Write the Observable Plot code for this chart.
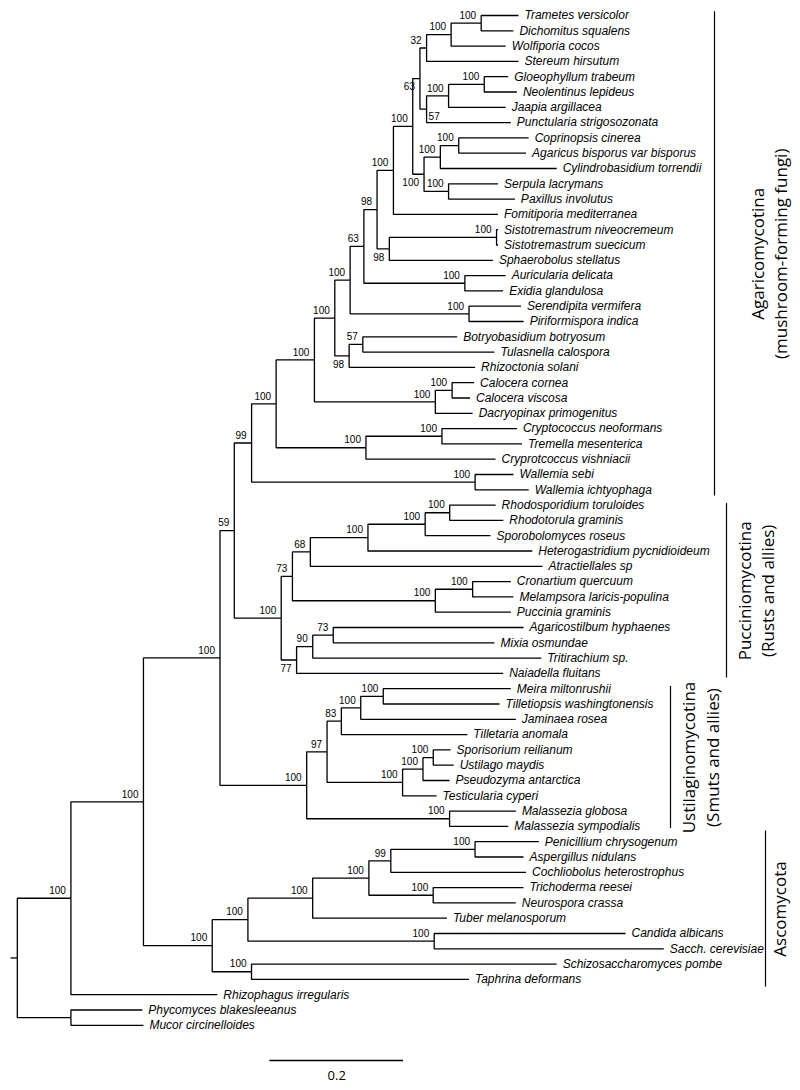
<!DOCTYPE html>
<html><head><meta charset="utf-8">
<script src="https://cdn.jsdelivr.net/npm/d3@7"></script>
<script src="https://cdn.jsdelivr.net/npm/@observablehq/plot@0.6"></script>
<style>
html,body{margin:0;padding:0;background:#fff;}
#chart svg{display:block;}
</style></head><body><div id="chart"></div>
<script>
// ---------- DATA: tree as Newick pieces (branch lengths in substitutions/site, support values) ----------
const TD   = "(Trametes versicolor:0.0558,Dichomitus squalens:0.0482)100:0.0450";
const TDW  = "(" + TD + ",Wolfiporia cocos:0.0817)100:0.0367";
const N32  = "(" + TDW + ",Stereum hirsutum:0.1375)32:0.0099";
const GN   = "(Gloeophyllum trabeum:0.0359,Neolentinus lepideus:0.0488)100:0.0534";
const GNJ  = "(" + GN + ",Jaapia argillacea:0.0854)100:0.0329";
const N57  = "(" + GNJ + ",Punctularia strigosozonata:0.1260)57:0.0099";
const N63  = "(" + N32 + "," + N57 + ")63:0.0108";
const CA   = "(Coprinopsis cinerea:0.1046,Agaricus bisporus var bisporus:0.1007)100:0.0275";
const CAC  = "(" + CA + ",Cylindrobasidium torrendii:0.1740)100:0.0244";
const SP   = "(Serpula lacrymans:0.0739,Paxillus involutus:0.0992)100:0.0367";
const AB   = "(" + CAC + "," + SP + ")100:0.0169";
const NA   = "(" + N63 + "," + AB + ")100:0.0289";
const NB   = "(" + NA + ",Fomitiporia mediterranea:0.1563)100:0.0245";
const SIS  = "(Sistotremastrum niveocremeum:0.0022,Sistotremastrum suecicum:0.0022)100:0.1604";
const ND   = "(" + SIS + ",Sphaerobolus stellatus:0.1549)98:0.0184";
const NC   = "(" + NB + "," + ND + ")98:0.0197";
const AE   = "(Auricularia delicata:0.0610,Exidia glandulosa:0.0573)100:0.1511";
const NE   = "(" + NC + "," + AE + ")63:0.0206";
const SPI  = "(Serendipita vermifera:0.0778,Piriformispora indica:0.0817)100:0.1779";
const NF   = "(" + NE + "," + SPI + ")100:0.0229";
const BT   = "(Botryobasidium botryosum:0.1412,Tulasnella calospora:0.1970)57:0.0205";
const BTR  = "(" + BT + ",Rhizoctonia solani:0.1885)98:0.0214";
const NG   = "(" + NF + "," + BTR + ")100:0.0305";
const CC   = "(Calocera cornea:0.0329,Calocera viscosa:0.0268)100:0.0251";
const DAC  = "(" + CC + ",Dacryopinax primogenitus:0.0558)100:0.1809";
const NH   = "(" + NG + "," + DAC + ")100:0.0573";
const CT   = "(Cryptococcus neoformans:0.1122,Tremella mesenterica:0.1198)100:0.1137";
const TRE  = "(" + CT + ",Cryprotcoccus vishniacii:0.1939)100:0.1344";
const NI   = "(" + NH + "," + TRE + ")100:0.0367";
const WAL  = "(Wallemia sebi:0.0573,Wallemia ichtyophaga:0.0802)100:0.3344";
const NJ   = "(" + NI + "," + WAL + ")99:0.0259";
const RR   = "(Rhodosporidium toruloides:0.0687,Rhodotorula graminis:0.0802)100:0.0367";
const RRS  = "(" + RR + ",Sporobolomyces roseus:0.0977)100:0.0856";
const RRSH = "(" + RRS + ",Heterogastridium pycnidioideum:0.2458)100:0.0862";
const N68  = "(" + RRSH + ",Atractiellales sp:0.3473)68:0.0268";
const CM   = "(Cronartium quercuum:0.0572,Melampsora laricis-populina:0.0610)100:0.0558";
const CMP  = "(" + CM + ",Puccinia graminis:0.1130)100:0.2138";
const N73  = "(" + N68 + "," + CMP + ")73:0.0168";
const AM   = "(Agaricostilbum hyphaenes:0.2847,Mixia osmundae:0.2412)73:0.0307";
const N90  = "(" + AM + ",Tritirachium sp.:0.3420)90:0.0242";
const N77  = "(" + N90 + ",Naiadella fluitans:0.3091)77:0.0230";
const PUC  = "(" + N73 + "," + N77 + ")100:0.0702";
const NK   = "(" + NJ + "," + PUC + ")59:0.0214";
const MT   = "(Meira miltonrushii:0.1908,Tilletiopsis washingtonensis:0.1740)100:0.0337";
const MTJ  = "(" + MT + ",Jaminaea rosea:0.2320)100:0.0290";
const N83  = "(" + MTJ + ",Tilletaria anomala:0.1885)83:0.0214";
const SU   = "(Sporisorium reilianum:0.0259,Ustilago maydis:0.0305)100:0.0154";
const SUP  = "(" + SU + ",Pseudozyma antarctica:0.0398)100:0.0305";
const SUPT = "(" + SUP + ",Testicularia cyperi:0.0509)100:0.1130";
const N97  = "(" + N83 + "," + SUPT + ")97:0.0305";
const MAL  = "(Malassezia globosa:0.0992,Malassezia sympodialis:0.0878)100:0.2138";
const UST  = "(" + N97 + "," + MAL + ")100:0.1297";
const BAS  = "(" + NK + "," + UST + ")100:0.1145";
const PA   = "(Penicillium chrysogenum:0.0955,Aspergillus nidulans:0.0726)100:0.1260";
const P99  = "(" + PA + ",Cochliobolus heterostrophus:0.2023)99:0.0328";
const TN   = "(Trichoderma reesei:0.1351,Neurospora crassa:0.1236)100:0.0962";
const PEZ  = "(" + P99 + "," + TN + ")100:0.0841";
const PT   = "(" + PEZ + ",Tuber melanosporum:0.2008)100:0.0969";
const CS   = "(Candida albicans:0.2862,Sacch. cerevisiae:0.3435)100:0.2787";
const PTC  = "(" + PT + "," + CS + ")100:0.0534";
const ST   = "(Schizosaccharomyces pombe:0.4565,Taphrina deformans:0.3253)100:0.0588";
const ASC  = "(" + PTC + "," + ST + ")100:0.1029";
const DIK  = "(" + BAS + "," + ASC + ")100:0.1085";
const DR   = "(" + DIK + ",Rhizophagus irregularis:0.2190)100:0.0802";
const MUC  = "(Phycomyces blakesleeanus:0.1068,Mucor circinelloides:0.1085):0.0802";
const newick = "(" + DR + "," + MUC + "):0.0099;";

// clade brackets (leaf-row extents) and their labels
const cladeNames = [["Agaricomycotina", "(mushroom-forming fungi)"], ["Pucciniomycotina", "(Rusts and allies)"], ["Ustilaginomycotina", "(Smuts and allies)"], ["Ascomycota"]];
const cladeFrom  = [-0.25, 31.9, 43.85, 53.3];
const cladeTo    = [31.4, 43.3, 53.15, 63.5];

// scale bar
const scaleLength = 0.2;
const scaleLabel  = "0.2";

// ---------- LAYOUT constants ----------
const X0 = 10.2, PXU = 668.4;         // x range for 0..1 substitutions
const ROW0 = 15, ROWSTEP = 15.3;       // leaf row spacing
const px2u = px => (px - X0) / PXU;
const cladeBracketPx = [714, 726, 670, 765];
const cladeTextPx = [[758, 781], [745, 768], [689, 713], [780]];
const placement = {
  "Trametes versicolor|Punctularia strigosozonata": "below",
  "Coprinopsis cinerea|Paxillus involutus": "below",
  "Sistotremastrum niveocremeum|Sphaerobolus stellatus": "below",
  "Botryobasidium botryosum|Rhizoctonia solani": "below",
  "Agaricostilbum hyphaenes|Naiadella fluitans": "below",
  "Gloeophyllum trabeum|Punctularia strigosozonata": "right"
};

// ---------- parse Newick ----------
function parseNewick(s) {
  let i = 0;
  function node() {
    const n = {children: [], name: "", length: 0};
    if (s[i] === "(") {
      i++;
      n.children.push(node());
      while (s[i] === ",") { i++; n.children.push(node()); }
      i++; // ')'
    }
    let name = "";
    while (i < s.length && !",():;".includes(s[i])) name += s[i++];
    n.name = name.trim();
    if (s[i] === ":") {
      i++;
      let num = "";
      while (i < s.length && !",();".includes(s[i])) num += s[i++];
      n.length = +num;
    }
    return n;
  }
  return node();
}
const root = parseNewick(newick);
let leafCount = 0;
const allNodes = [];
(function lay(n, parent) {
  n.parent = parent;
  n.depth = (parent ? parent.depth : 0) + n.length;
  allNodes.push(n);
  if (!n.children.length) { n.row = leafCount++; n.first = n.last = n.name; }
  else {
    n.children.forEach(c => lay(c, n));
    n.row = (n.children[0].row + n.children[n.children.length - 1].row) / 2;
    n.first = n.children[0].first; n.last = n.children[n.children.length - 1].last;
  }
})(root, null);

const edges = allNodes.map(n => ({
  x1: n.parent ? n.parent.depth : 0, y1: n.parent ? n.parent.row : n.row,
  x2: n.depth, y2: n.row
}));
const leaves = allNodes.filter(n => !n.children.length);
const supports = allNodes.filter(n => n.children.length && n.name);
const supAbove = supports.filter(n => !placement[n.first + "|" + n.last]);
const supBelow = supports.filter(n => placement[n.first + "|" + n.last] === "below");
const supRight = supports.filter(n => placement[n.first + "|" + n.last] === "right");

const brackets = cladeNames.map((nm, k) => ({x: px2u(cladeBracketPx[k]), from: cladeFrom[k], to: cladeTo[k]}));
const cladeText = cladeNames.flatMap((nm, k) => nm.map((t, j) => ({
  text: t, x: px2u(cladeTextPx[k][j]), y: (cladeFrom[k] + cladeTo[k]) / 2
})));
const scaleStart = px2u(269.4);
const scaleRow = (1060 - ROW0) / ROWSTEP, scaleTextRow = (1075.5 - ROW0) / ROWSTEP;

const arial = "'Liberation Sans', Arial, Helvetica, sans-serif";
const myriad = "'Open Sans', 'Noto Sans', sans-serif";

const chart = Plot.plot({
  width: 800, height: 1090,
  marginTop: 0, marginBottom: 0, marginLeft: 0, marginRight: 0,
  x: {domain: [0, 1], range: [X0, X0 + PXU], axis: null},
  y: {domain: [0, 66], range: [ROW0, ROW0 + 66 * ROWSTEP], axis: null},
  style: {background: "#fff", color: "#000", overflow: "visible"},
  marks: [
    Plot.link(edges, {x1: "x1", y1: "y1", x2: "x2", y2: "y2", curve: "step-before", stroke: "#000", strokeWidth: 1.3}),
    Plot.text(leaves, {x: "depth", y: "row", text: "name", textAnchor: "start", dx: 6, fontSize: 12, fontStyle: "italic", fontFamily: arial, fill: "#000"}),
    Plot.text(supAbove, {x: "depth", y: "row", text: "name", textAnchor: "end", dx: -5, dy: -7.5, fontSize: 10, fontFamily: arial, fill: "#000"}),
    Plot.text(supBelow, {x: "depth", y: "row", text: "name", textAnchor: "end", dx: -5, dy: 8.5, fontSize: 10, fontFamily: arial, fill: "#000"}),
    Plot.text(supRight, {x: "depth", y: "row", text: "name", textAnchor: "start", dx: 2, dy: 8, fontSize: 10, fontFamily: arial, fill: "#000"}),
    Plot.ruleX(brackets, {x: "x", y1: "from", y2: "to", stroke: "#000", strokeWidth: 1.2}),
    Plot.text(cladeText, {x: "x", y: "y", text: "text", rotate: -90, fontSize: 17, fontFamily: myriad, fill: "#000"}),
    Plot.ruleY([{a: scaleStart, b: scaleStart + scaleLength, r: scaleRow}], {x1: "a", x2: "b", y: "r", stroke: "#000", strokeWidth: 1.3}),
    Plot.text([{x: scaleStart + scaleLength / 2, r: scaleTextRow, t: scaleLabel}], {x: "x", y: "r", text: "t", fontSize: 13, fontFamily: myriad, fill: "#000"})
  ]
});
document.getElementById("chart").appendChild(chart);
</script>
</body></html>
